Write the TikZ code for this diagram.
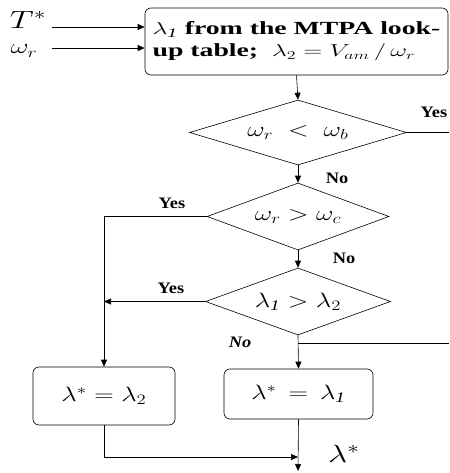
\documentclass[tikz,border=0pt]{standalone}
\usepackage{fontspec}
\setmainfont{Liberation Serif}
\usetikzlibrary{shapes.geometric,arrows.meta}
\newcommand{\wx}[2][1.3]{\scalebox{#1}[1]{#2}}
\tikzset{
  arr/.style={-{Triangle[length=7pt,width=6pt]}},
  blk/.style={draw,rounded corners=6pt,inner sep=0pt},
  dec/.style={draw,diamond,aspect=3.3,inner sep=0pt},
  lbl/.style={font=\fontsize{16}{18}\selectfont\bfseries},
  big/.style={font=\fontsize{21}{23}\selectfont}
}
\begin{document}
\begin{tikzpicture}[x=1pt,y=-1pt,line width=0.6pt]
\useasboundingbox (0,0) rectangle (449,473);
% inputs
\node[font=\fontsize{23}{25}\selectfont,inner sep=0pt] (tstar) at (28,20) {\wx[1.35]{$T^*$}};
\node[font=\fontsize{22}{24}\selectfont,inner sep=0pt] (wr) at (24,51) {\wx[1.35]{$\omega_r$}};
\coordinate (tin) at (52,27);
\coordinate (win) at (52,48);

% look-up block
\node[blk,minimum width=303pt,minimum height=67pt,align=left,font=\fontsize{18.5}{22}\selectfont\bfseries] (lut) at (296.5,41.5)
  {\wx[1.5]{$\lambda_{\mathit{1}}$ from the MTPA look-}\\\wx[1.5]{up table; \ $\lambda_2 = V_{am}\,/\,\omega_r$}};
\draw[arr] (tin) -- (tin -| lut.west);
\draw[arr] (win) -- (win -| lut.west);

% decisions
\node[dec,minimum width=217pt,minimum height=65pt,big] (d1) at (298,132.5) {\wx{$\omega_r \;<\; \omega_b$}};
\node[dec,minimum width=182pt,minimum height=67pt,big] (d2) at (298,216.5) {\wx{$\omega_r > \omega_c$}};
\node[dec,minimum width=185pt,minimum height=67pt,big] (d3) at (298,301.5) {\wx{$\lambda_{\mathit{1}} > \lambda_2$}};

% results
\node[blk,minimum width=142pt,minimum height=58pt,big] (lbox) at (104,396) {\wx{$\lambda^* = \lambda_2$}};
\node[blk,minimum width=149pt,minimum height=50pt,big] (rbox) at (298.5,394) {\wx{$\lambda^* \,=\, \lambda_{\mathit{1}}$}};

\coordinate (yes1) at (449,132.5);
\coordinate (nobr) at (449,343);
\coordinate (join) at (298,457);
\coordinate (out) at (298,471);

\draw[arr] (lut.south) -- (d1.north);
\draw (d1.east) -- (yes1);
\node[lbl] (y1) at (434,112) {\wx[1.15]{Yes}};
\draw[arr] (d1.south) -- (d2.north);
\node[lbl] (n1) at (337,178) {\wx[1.15]{No}};
\draw[arr] (d2.west) -| (lbox.north);
\node[lbl] (y2) at (172,203) {\wx[1.15]{Yes}};
\draw[arr] (d2.south) -- (d3.north);
\node[lbl] (n2) at (344,258) {\wx[1.15]{No}};
\draw[arr] (d3.west) -- (d3.west -| lbox.north);
\node[lbl] (y3) at (171,288) {\wx[1.15]{Yes}};
\draw[arr] (d3.south) -- (rbox.north);
\draw (nobr -| d3.south) -- (nobr);
\node[lbl,font=\fontsize{16}{18}\selectfont\bfseries\itshape] (n3) at (240,342) {\wx[1.15]{No}};

% output
\draw[arr] (lbox.south) |- (join);
\draw[arr] (rbox.south) -- (out);
\node[font=\fontsize{27}{29}\selectfont] (lstar) at (344,454) {\wx[1.35]{$\lambda^*$}};
\end{tikzpicture}
\end{document}
